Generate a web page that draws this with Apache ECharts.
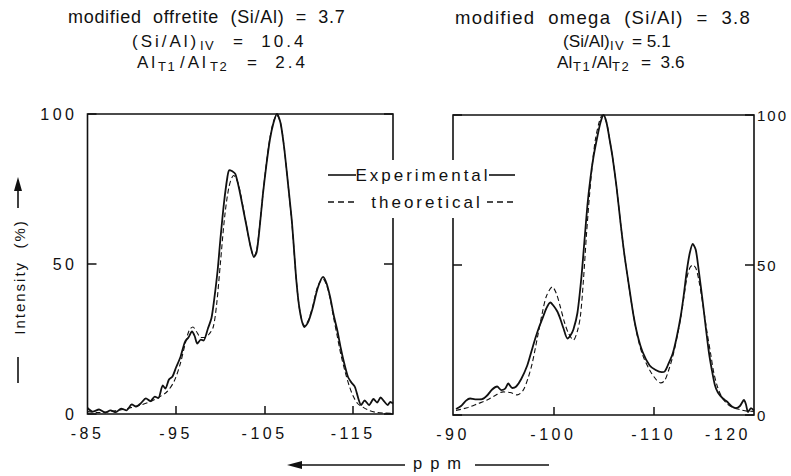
<!DOCTYPE html>
<html>
<head>
<meta charset="utf-8">
<script src="https://cdn.jsdelivr.net/npm/echarts@6/dist/echarts.min.js"></script>
<style>
  html, body { margin: 0; padding: 0; background: #fff; }
  #chart { width: 791px; height: 476px; }
  /* tracked lettering, keyed on the font size of each text group */
  #chart text[style*="18px"] { letter-spacing: 0.7px; }
  #chart text[style*="18.5px"] { letter-spacing: 1.3px; }
  #chart text[style*="17px"] { letter-spacing: 3px; }
  #chart text[style*="16px"] { letter-spacing: 3.5px; }
  #chart text[style*="15px"] { letter-spacing: 2px; }
  #chart text[style*="13px"] { letter-spacing: 1.5px; }
  #chart text[style*="16.5px"] { letter-spacing: 8px; }
</style>
</head>
<body>
<div id="chart"></div>
<script>
// ---- modified offretite: 29Si MAS NMR, experimental trace ----
const offExpPpm = [-85.0, -85.6, -86.3, -87.0, -87.6, -88.2, -88.8, -89.4, -90.0, -90.5, -91.0, -91.6, -92.1, -92.6, -93.0, -93.5, -93.8, -94.2, -94.6, -95.0, -95.5, -96.0, -96.4, -96.8, -97.1, -97.4, -97.8, -98.1, -98.6, -99.0, -99.3, -99.7, -100.0, -100.4, -100.8, -101.0, -101.3, -101.7, -102.2, -102.6, -103.0, -103.4, -103.8, -104.1, -104.4, -104.8, -105.2, -105.6, -106.0, -106.4, -106.8, -107.2, -107.6, -108.1, -108.6, -109.0, -109.5, -109.9, -110.4, -111.0, -111.6, -112.0, -112.4, -112.8, -113.2, -113.6, -113.9, -114.4, -114.8, -115.2, -115.6, -115.9, -116.3, -116.8, -117.3, -117.7, -118.1, -118.5, -118.9, -119.2, -119.5];
const offExpInt = [2.0, 0.8, 1.5, 0.5, 1.2, 0.6, 1.8, 1.2, 3.2, 2.5, 3.5, 5.2, 4.3, 5.8, 5.3, 9.5, 8.5, 11.5, 12.5, 15.5, 19, 24, 25.5, 27.5, 26, 23.5, 24.8, 24.5, 28.5, 32, 38, 48, 58, 70, 79, 81.3, 81, 80, 74, 68, 62, 56, 52.3, 54, 61, 73, 83, 91.5, 97, 100, 97, 89, 78, 63.5, 44, 34, 29, 30.5, 35, 42, 45.7, 43.5, 39, 33, 28, 22, 18, 12.5, 10.5, 9, 5, 3, 4.5, 3, 5, 3.8, 5.5, 4.2, 3, 4, 3.5];

// ---- modified offretite: simulated spectrum ----
const offTheoPpm = [-85.0, -86.0, -87.0, -88.0, -89.0, -90.0, -91.0, -92.0, -93.0, -94.0, -94.8, -95.5, -96.0, -96.5, -96.9, -97.3, -97.8, -98.2, -98.7, -99.2, -99.6, -100.0, -100.5, -101.0, -101.5, -102.0, -102.6, -103.0, -103.4, -103.8, -104.1, -104.4, -104.8, -105.2, -105.6, -106.0, -106.4, -106.8, -107.2, -107.6, -108.1, -108.6, -109.0, -109.5, -109.9, -110.4, -111.0, -111.6, -112.0, -112.4, -112.8, -113.2, -113.6, -114.1, -114.6, -115.0, -115.5, -116.1, -116.8, -117.5, -118.5, -119.5];
const offTheoInt = [0.8, 0.5, 0.6, 1.0, 1.5, 2.2, 3.0, 4.0, 5.5, 7.5, 11, 17, 23, 28, 29, 27.5, 25.5, 25.5, 26.5, 29, 37, 50, 66, 76, 79.5, 77, 68.5, 62, 56, 52.5, 54.5, 61.5, 73, 83.5, 92, 97.5, 99.5, 97, 89, 78, 63, 44, 34, 29.5, 31, 35.5, 42.5, 45, 43, 38.5, 32, 26, 20, 14, 9, 6, 3.5, 2.3, 1.2, 0.6, 0.3, 0.2];

// ---- modified omega: experimental trace ----
const omgExpPpm = [-90.3, -90.8, -91.3, -91.7, -92.2, -92.9, -93.4, -93.9, -94.4, -94.8, -95.2, -95.5, -95.9, -96.3, -96.8, -97.4, -97.8, -98.2, -98.6, -98.9, -99.3, -99.7, -100.0, -100.4, -100.7, -101.0, -101.4, -101.7, -102.0, -102.4, -102.8, -103.1, -103.4, -103.7, -104.0, -104.4, -104.7, -105.0, -105.3, -105.6, -105.9, -106.3, -106.7, -107.1, -107.6, -108.0, -108.4, -108.9, -109.6, -110.2, -110.8, -111.1, -111.4, -111.9, -112.3, -112.7, -113.0, -113.3, -113.6, -113.9, -114.2, -114.5, -114.9, -115.2, -115.5, -115.8, -116.1, -116.4, -116.9, -117.3, -117.8, -118.2, -118.6, -119.0, -119.2, -119.4, -119.7, -120.0];
const omgExpInt = [2.0, 3, 4.8, 5.5, 5.2, 5.3, 6.5, 8.5, 9.5, 8.3, 8.8, 10.5, 9, 9.5, 12, 16.5, 21, 25.5, 29.5, 32, 35.5, 37.5, 36.5, 34.5, 32, 29, 25.5, 26.5, 28.5, 34, 46, 58, 70, 79, 86, 93, 97.5, 100, 97.5, 92, 86, 76, 64, 53, 41.7, 33, 26.5, 21, 16.5, 15, 14.3, 14.5, 16.5, 20.5, 26, 33, 40, 48, 54, 57, 55, 48, 37.5, 29, 21, 15, 10, 7.5, 5.5, 4.5, 2.8, 2.3, 3, 5, 3.5, 1, 2.3, 1.5];

// ---- modified omega: simulated spectrum ----
const omgTheoPpm = [-90.3, -91.5, -92.5, -93.4, -94.2, -95.0, -95.7, -96.4, -97.0, -97.5, -97.9, -98.5, -98.9, -99.3, -99.9, -100.3, -100.7, -101.1, -101.5, -102.0, -102.4, -102.7, -103.0, -103.3, -103.6, -103.9, -104.2, -104.6, -104.9, -105.3, -105.6, -105.9, -106.3, -106.7, -107.1, -107.6, -108.0, -108.4, -108.9, -109.6, -110.2, -110.7, -111.1, -111.5, -111.9, -112.3, -112.7, -113.0, -113.3, -113.6, -113.9, -114.2, -114.5, -114.9, -115.3, -115.7, -116.0, -116.4, -116.8, -117.3, -117.9, -118.6, -119.3, -120.0];
const omgTheoInt = [1.5, 2.5, 3.8, 5, 6.5, 7.7, 7.5, 6.7, 8.3, 12.5, 17.3, 27.3, 34, 39.5, 42.7, 40.5, 36, 31, 27.3, 25, 28, 33, 45, 60, 73, 84, 92, 98, 100, 97.5, 92, 86, 76, 64, 53, 41.5, 33, 26, 20, 15, 12, 10.7, 11.5, 15, 19.5, 25.5, 32.5, 39, 45.5, 49, 50, 49, 45, 37, 28, 20, 14, 9, 6, 3.8, 2.5, 1.8, 1.3, 1.2];

// ---- axis ticks and labels ----
const offTickLabels = [-85, -95, -105, -115];
const offTickMarks = [-95, -105, -115];
const omgTickLabels = [-90, -100, -110, -120];
const omgTickMarks = [-100, -110];
const intensityTicks = [0, 50, 100];

const INK = '#111';
const FONT = 'Liberation Sans';

function pairs(xs, ys) {
  return xs.map((x, i) => [x, ys[i]]);
}

function xAxisFor(gridIndex, lo, hi, labels, marks, formatter) {
  return {
    gridIndex, type: 'value', min: lo, max: hi, inverse: true,
    axisLine: { show: false },
    splitLine: { show: false },
    axisTick: { show: true, inside: true, length: 8, customValues: marks,
                lineStyle: { color: INK, width: 1.5 } },
    axisLabel: { show: true, customValues: labels, margin: 11, color: INK,
                 fontFamily: FONT, fontSize: 16, formatter: formatter,
                 rich: { shifted: { color: INK, fontFamily: FONT, fontSize: 16,
                                    padding: [0, 52, 0, 0] } } }
  };
}

function yAxisFor(gridIndex, position, showLabels, margin, size) {
  return {
    gridIndex, type: 'value', position, min: 0, max: 100, interval: 50,
    axisLine: { show: false },
    splitLine: { show: false },
    axisTick: { show: true, inside: true, length: 9,
                lineStyle: { color: INK, width: 1.5 } },
    axisLabel: { show: showLabels, margin, color: INK, fontFamily: FONT, fontSize: size,
                 customValues: intensityTicks }
  };
}

function text(x, y, str, size, align) {
  return {
    type: 'text', x, y, z: 60,
    style: { text: str, fill: INK, fontFamily: FONT, fontSize: size,
             textAlign: align || 'left', textVerticalAlign: 'middle' }
  };
}

function hline(x1, x2, y, dash) {
  return {
    type: 'line', z: 60,
    shape: { x1, y1: y, x2, y2: y },
    style: { stroke: INK, lineWidth: dash ? 1.3 : 1.6, lineDash: dash ? [6, 4] : null }
  };
}

const chart = echarts.init(document.getElementById('chart'), null, { renderer: 'svg' });

chart.setOption({
  backgroundColor: '#fff',
  animation: false,
  grid: [
    { left: 87.5, top: 114, width: 305.5, height: 300, show: true,
      borderColor: INK, borderWidth: 1.6, backgroundColor: 'transparent' },
    { left: 453, top: 115, width: 301, height: 300, show: true,
      borderColor: INK, borderWidth: 1.6, backgroundColor: 'transparent' }
  ],
  xAxis: [
    xAxisFor(0, -119.5, -85, offTickLabels, offTickMarks),
    xAxisFor(1, -120, -90, omgTickLabels, omgTickMarks,
             v => (v === -120 ? '{shifted|' + v + '}' : String(v)))
  ],
  yAxis: [
    yAxisFor(0, 'left', true, 10, 16),
    yAxisFor(0, 'right', false, 4, 16),
    yAxisFor(1, 'left', false, 4, 16),
    yAxisFor(1, 'right', true, 3, 15)
  ],
  series: [
    { name: 'Experimental', type: 'line', xAxisIndex: 0, yAxisIndex: 0,
      data: pairs(offExpPpm, offExpInt), showSymbol: false, smooth: 0.25,
      lineStyle: { color: INK, width: 1.8 } },
    { name: 'theoretical', type: 'line', xAxisIndex: 0, yAxisIndex: 0,
      data: pairs(offTheoPpm, offTheoInt), showSymbol: false, smooth: 0.3,
      lineStyle: { color: INK, width: 1.1, type: [5, 3] } },
    { name: 'Experimental', type: 'line', xAxisIndex: 1, yAxisIndex: 3,
      data: pairs(omgExpPpm, omgExpInt), showSymbol: false, smooth: 0.25,
      lineStyle: { color: INK, width: 1.8 } },
    { name: 'theoretical', type: 'line', xAxisIndex: 1, yAxisIndex: 3,
      data: pairs(omgTheoPpm, omgTheoInt), showSymbol: false, smooth: 0.3,
      lineStyle: { color: INK, width: 1.1, type: [5, 3] } }
  ],
  graphic: [
    // sample headings
    text(68, 17, 'modified  offretite  (Si/Al)  =  3.7', 18),
    text(455, 17, 'modified  omega  (Si/Al)  =  3.8', 18.5),
    text(132, 41, '(Si/Al)', 17),
    text(200, 45, 'IV', 13),
    text(233, 41, '=  10.4', 17),
    text(137, 62, 'Al', 17),
    text(158, 66, 'T1', 13),
    text(180, 62, '/Al', 17),
    text(210, 66, 'T2', 13),
    text(247, 62, '=  2.4', 17),
    text(563, 41, '(Si/Al)', 17.2),
    text(610, 45, 'IV', 13),
    text(632, 41, '= 5.1', 17.2),
    text(557, 62, 'Al', 17.2),
    text(573, 66, 'T1', 13),
    text(592, 62, '/Al', 17.2),
    text(612, 66, 'T2', 13),
    text(641, 62, '=  3.6', 17.2),

    // key between the panels, cut into both frames
    { type: 'rect', z: 55, shape: { x: 322, y: 160, width: 198, height: 58 },
      style: { fill: '#fff' } },
    hline(328, 356, 175, false),
    text(423, 175, 'Experimental', 17, 'center'),
    hline(489, 515, 175, false),
    hline(328, 356, 202, true),
    text(427, 202, 'theoretical', 17, 'center'),
    hline(487, 515, 202, true),

    // vertical axis title with its arrow
    { type: 'text', z: 60, x: 19, y: 277, rotation: Math.PI / 2,
      style: { text: 'Intensity  (%)', fill: INK, fontFamily: FONT, fontSize: 15,
               textAlign: 'center', textVerticalAlign: 'middle' } },
    { type: 'line', z: 60, shape: { x1: 18, y1: 357, x2: 18, y2: 383 },
      style: { stroke: INK, lineWidth: 1.6 } },
    { type: 'line', z: 60, shape: { x1: 18, y1: 208, x2: 18, y2: 188 },
      style: { stroke: INK, lineWidth: 1.6 } },
    { type: 'polygon', z: 60, shape: { points: [[18, 177], [14, 191], [22, 191]] },
      style: { fill: INK } },

    // shift axis title with its arrow
    { type: 'line', z: 60, shape: { x1: 300, y1: 465, x2: 405, y2: 465 },
      style: { stroke: INK, lineWidth: 1.6 } },
    { type: 'polygon', z: 60, shape: { points: [[287, 465], [302, 461], [302, 469]] },
      style: { fill: INK } },
    text(413, 463, 'ppm', 16.5),
    { type: 'line', z: 60, shape: { x1: 475, y1: 465, x2: 549, y2: 465 },
      style: { stroke: INK, lineWidth: 1.6 } }
  ]
});
</script>
</body>
</html>
